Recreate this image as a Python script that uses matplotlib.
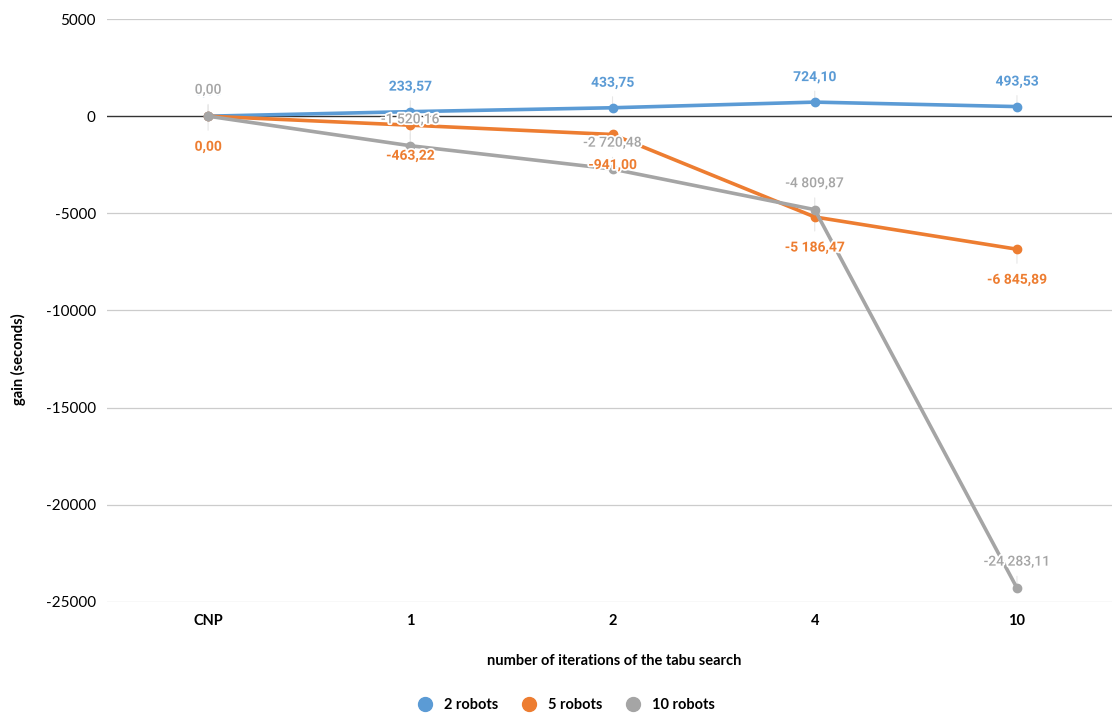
import matplotlib.pyplot as plt
import matplotlib.patheffects as pe
from matplotlib.lines import Line2D

categories = ["CNP", "1", "2", "4", "10"]
robots_2 = [0.00, 233.57, 433.75, 724.10, 493.53]
robots_5 = [0.00, -463.22, -941.00, -5186.47, -6845.89]
robots_10 = [0.00, -1520.16, -2720.48, -4809.87, -24283.11]
series_names = ["2 robots", "5 robots", "10 robots"]
yticks = [5000, 0, -5000, -10000, -15000, -20000, -25000]


def fmt(v):
    # european style: space thousands, comma decimals
    s = f"{v:,.2f}"
    return s.replace(",", " ").replace(".", ",")


def plot():

    fig = plt.figure(figsize=(11.12, 7.18), dpi=100)
    ax = fig.add_axes([0.0962, 0.1616, 0.9038, 0.8119])

    colors = ["#5B9BD5", "#ED7D31", "#A5A5A5"]
    # label offset in points: positive = above
    offsets = [18, -22, 19]
    weights = ["bold", "bold", "medium"]

    for gy in yticks:
        if gy == 0:
            ax.axhline(gy, color="#333333", lw=1.0, zorder=1)
        else:
            ax.axhline(gy, color="#CCCCCC", lw=0.9, zorder=1)

    x = range(len(categories))
    all_series = [robots_2, robots_5, robots_10]
    for k, vals in enumerate(all_series):
        ax.plot(x, vals, color=colors[k], lw=2.6, marker="o", ms=6,
                zorder=3 + k * 0.1, solid_capstyle="round")
        for i, v in enumerate(vals):
            dy = offsets[k]
            ax.annotate("", xy=(i, v), xytext=(0, dy * 0.55),
                        textcoords="offset points",
                        arrowprops=dict(arrowstyle="-", color="#E6E6E6", lw=0.8),
                        zorder=2)
            ax.annotate(fmt(v), xy=(i, v), xytext=(0, dy),
                        textcoords="offset points", ha="center", va="center",
                        color=colors[k], fontsize=10, fontweight=weights[k],
                        family="Roboto", zorder=5 + k,
                        path_effects=[pe.withStroke(linewidth=2.5, foreground="white")])

    ax.set_xlim(-0.5, 4.47)
    ax.set_ylim(-25000, 5000)
    ax.set_yticks(yticks)
    ax.set_yticklabels([str(t) for t in yticks], fontsize=11, family="Lato")
    ax.set_xticks(list(x))
    ax.set_xticklabels(categories, fontsize=10.5, family="Lato", fontweight="bold")
    ax.tick_params(length=0)
    ax.tick_params(axis="x", pad=9)
    ax.tick_params(axis="y", pad=8)
    for s in ax.spines.values():
        s.set_visible(False)

    fig.text(0.552, 0.079, "number of iterations of the tabu search", ha="center",
             va="center", fontsize=10.5, family="Lato", fontweight="bold")
    fig.text(0.017, 0.5, "gain (seconds)", rotation=90, ha="center", va="center",
             fontsize=10.5, family="Lato", fontweight="bold")

    handles = [Line2D([], [], ls="none", marker="o", ms=10, color=c) for c in colors]
    fig.legend(handles, series_names, loc="center", bbox_to_anchor=(0.506, 0.018),
               ncol=3, frameon=False, handletextpad=0.3, columnspacing=1.1,
               prop={"family": "Lato", "size": 10.5, "weight": "bold"})

    fig.savefig("out.png", dpi=100)


if __name__ == "__main__":
    plot()
